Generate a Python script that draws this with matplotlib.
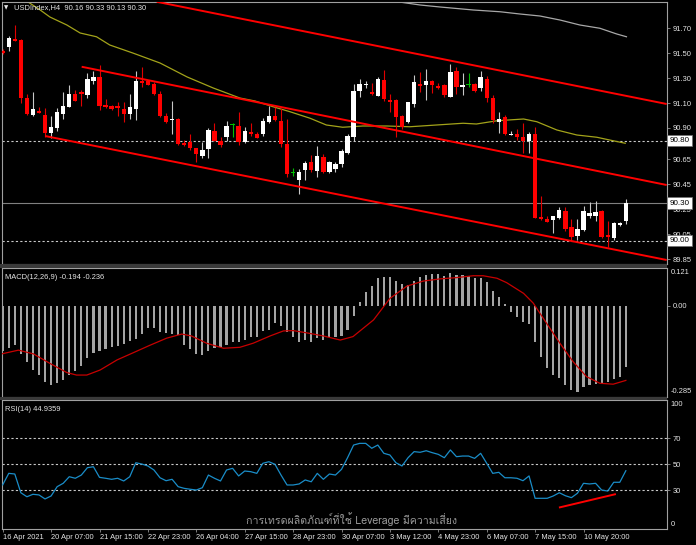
import numpy as np
import matplotlib
matplotlib.use("Agg")
import matplotlib.pyplot as plt
from matplotlib import font_manager as fm
from matplotlib.ft2font import FT2Font
from matplotlib.patches import Rectangle
import matplotlib.transforms as mtransforms

# ---------------- data ----------------
symbol = "USDIndex"
timeframe = "H4"

opens = [91.518, 91.550, 91.612, 91.604, 91.140, 91.004, 91.036, 91.004, 90.862, 90.902,
         91.012, 91.070, 91.172, 91.190, 91.164, 91.276, 91.306, 91.084, 91.078, 91.076,
         91.052, 91.012, 91.050, 91.278, 91.278, 91.252, 91.172, 90.996, 90.964, 90.972,
         90.778, 90.786, 90.738, 90.678, 90.732, 90.878, 90.798, 90.830, 90.924, 90.916,
         90.786, 90.866, 90.850, 90.850, 90.950, 90.996, 90.956, 90.772, 90.538, 90.484,
         90.564, 90.630, 90.558, 90.666, 90.550, 90.570, 90.610, 90.698, 90.826, 91.196,
         91.242, 91.186, 91.158, 91.284, 91.124, 91.124, 90.996, 90.950, 91.090, 91.252,
         91.244, 91.278, 91.236, 91.244, 91.150, 91.356, 91.230, 91.244, 91.252, 91.218,
         91.292, 91.142, 90.950, 90.990, 90.844, 90.852, 90.830, 90.798, 90.852, 90.190,
         90.172, 90.164, 90.182, 90.236, 90.106, 90.038, 90.084, 90.198, 90.198, 90.238,
         90.044, 90.022, 90.124, 90.16]
highs = [91.532, 91.636, 91.724, 91.610, 91.172, 91.188, 91.070, 91.062, 90.996, 91.062,
         91.188, 91.246, 91.204, 91.204, 91.342, 91.356, 91.404, 91.130, 91.084, 91.110,
         91.110, 91.170, 91.356, 91.386, 91.284, 91.270, 91.196, 91.018, 91.116, 90.978,
         90.804, 90.852, 90.742, 90.786, 90.898, 90.938, 90.830, 90.956, 90.942, 91.030,
         90.906, 90.942, 90.866, 90.978, 91.078, 91.070, 91.058, 90.970, 90.578, 90.570,
         90.638, 90.684, 90.756, 90.692, 90.636, 90.628, 90.730, 90.852, 91.250, 91.292,
         91.278, 91.262, 91.310, 91.364, 91.172, 91.130, 91.004, 91.110, 91.324, 91.350,
         91.370, 91.284, 91.262, 91.252, 91.412, 91.386, 91.342, 91.338, 91.258, 91.356,
         91.318, 91.164, 91.026, 91.004, 90.876, 90.892, 90.938, 90.866, 90.910, 90.356,
         90.198, 90.200, 90.266, 90.266, 90.170, 90.170, 90.278, 90.306, 90.318, 90.244,
         90.156, 90.150, 90.148, 90.33]
lows = [91.492, 91.518, 91.596, 91.100, 91.004, 91.000, 91.020, 90.828, 90.820, 90.878,
        90.972, 91.068, 91.116, 91.078, 91.138, 91.252, 91.044, 91.062, 91.044, 90.996,
        90.950, 90.970, 90.964, 91.230, 91.244, 91.164, 90.988, 90.938, 90.850, 90.764,
        90.760, 90.724, 90.630, 90.658, 90.658, 90.796, 90.746, 90.796, 90.830, 90.764,
        90.778, 90.840, 90.818, 90.838, 90.938, 90.956, 90.750, 90.506, 90.518, 90.372,
        90.484, 90.550, 90.506, 90.544, 90.544, 90.550, 90.586, 90.690, 90.798, 91.150,
        91.218, 91.164, 91.154, 91.118, 91.030, 90.826, 90.890, 90.938, 91.070, 91.190,
        91.124, 91.182, 91.212, 91.146, 91.146, 91.170, 91.164, 91.226, 91.192, 91.198,
        91.110, 90.938, 90.862, 90.848, 90.842, 90.804, 90.702, 90.702, 90.178, 90.164,
        90.146, 90.062, 90.176, 90.078, 90.004, 90.004, 90.076, 90.178, 90.156, 90.018,
        89.946, 90.004, 90.116, 90.13]
closes = [91.498, 91.618, 91.598, 91.140, 91.012, 91.052, 91.022, 90.860, 90.908, 91.028,
          91.076, 91.172, 91.118, 91.172, 91.292, 91.310, 91.078, 91.070, 91.050, 91.062,
          91.012, 91.066, 91.278, 91.262, 91.244, 91.170, 90.996, 90.950, 90.972, 90.770,
          90.764, 90.742, 90.690, 90.724, 90.884, 90.798, 90.764, 90.916, 90.924, 90.790,
          90.878, 90.850, 90.822, 90.956, 90.996, 90.964, 90.770, 90.532, 90.538, 90.550,
          90.618, 90.564, 90.676, 90.550, 90.626, 90.610, 90.716, 90.836, 91.198, 91.252,
          91.252, 91.170, 91.292, 91.130, 91.110, 90.986, 90.906, 91.106, 91.266, 91.238,
          91.276, 91.244, 91.218, 91.164, 91.346, 91.226, 91.244, 91.244, 91.196, 91.306,
          91.138, 90.964, 90.972, 90.852, 90.852, 90.826, 90.798, 90.852, 90.182, 90.172,
          90.150, 90.196, 90.244, 90.092, 90.030, 90.092, 90.236, 90.218, 90.230, 90.030,
          90.026, 90.138, 90.138, 90.30]

# moving averages (bar index, price)
ma_yellow_i = [3.7, 6.2, 7.8, 10.6, 12.8, 15.5, 17.7, 21.5, 26.0, 30.5, 34.8, 39.2, 41.7, 44.7,
               47.5, 50.8, 53.5, 56.2, 59.5, 63.5, 67.3, 71.7, 76.1, 78.3, 81.7, 86.1, 88.3,
               91.6, 94.9, 98.2, 100.9, 102.9]
ma_yellow_p = [91.924, 91.844, 91.788, 91.724, 91.660, 91.630, 91.564, 91.500, 91.420, 91.308,
               91.220, 91.140, 91.116, 91.070, 91.030, 90.978, 90.924, 90.906, 90.916, 90.916,
               90.910, 90.924, 90.938, 90.932, 90.958, 90.972, 90.950, 90.884, 90.844, 90.826,
               90.798, 90.778]
ma_grey_i = [62.0, 66.0, 69.0, 72.3, 77.8, 82.2, 85.5, 88.8, 92.1, 95.4, 98.7, 101.5, 103.1]
ma_grey_p = [91.930, 91.905, 91.884, 91.868, 91.844, 91.830, 91.812, 91.796, 91.764, 91.724,
             91.698, 91.652, 91.630]

# channel trend lines: two anchors each (bar index, price), extended to the right
trend_upper = ([25.45, 109.75], [91.910, 91.092])
trend_mid = ([13.05, 109.75], [91.390, 90.444])
trend_low = ([7.0, 109.75], [90.836, 89.844])

hline_dotted = [90.80, 90.00]
bid_price = 90.30

price_ticks = [91.70, 91.50, 91.30, 91.10, 90.90, 90.65, 90.45, 90.25, 90.05, 89.85]

macd_hist = [-0.142, -0.134, -0.124, -0.152, -0.177, -0.203, -0.219, -0.240, -0.251, -0.243,
             -0.235, -0.219, -0.205, -0.190, -0.166, -0.150, -0.142, -0.137, -0.131, -0.127,
             -0.120, -0.110, -0.106, -0.089, -0.071, -0.071, -0.081, -0.087, -0.089, -0.092,
             -0.124, -0.137, -0.152, -0.155, -0.142, -0.134, -0.131, -0.124, -0.113, -0.113,
             -0.108, -0.099, -0.099, -0.078, -0.076, -0.053, -0.063, -0.081, -0.099, -0.113,
             -0.108, -0.113, -0.102, -0.108, -0.097, -0.099, -0.095, -0.076, -0.032, 0.012,
             0.045, 0.063, 0.088, 0.091, 0.091, 0.080, 0.069, 0.067, 0.080, 0.091,
             0.098, 0.100, 0.100, 0.096, 0.104, 0.098, 0.098, 0.096, 0.088, 0.088,
             0.077, 0.049, 0.030, 0.005, -0.018, -0.036, -0.052, -0.058, -0.113, -0.161,
             -0.198, -0.219, -0.229, -0.251, -0.266, -0.272, -0.256, -0.251, -0.247, -0.245,
             -0.240, -0.232, -0.224, -0.194]
macd_sig_i = [-0.2, 2.6, 5.1, 7.8, 10.6, 12.2, 13.9, 16.1, 18.9, 21.6, 24.4, 27.1, 29.6, 31.2,
              33.7, 36.5, 39.2, 41.4, 44.2, 46.4, 48.0, 50.2, 53.0, 55.8, 57.9, 61.3, 64.0,
              66.8, 69.5, 72.3, 75.0, 77.8, 79.4, 81.7, 83.3, 86.1, 87.7, 89.9, 92.1, 94.3,
              96.5, 98.7, 100.9, 103.0]
macd_sig_v = [-0.152, -0.140, -0.152, -0.182, -0.211, -0.219, -0.219, -0.203, -0.171, -0.148,
              -0.124, -0.102, -0.089, -0.095, -0.118, -0.134, -0.131, -0.118, -0.095, -0.079,
              -0.078, -0.085, -0.095, -0.108, -0.097, -0.044, 0.024, 0.063, 0.079, 0.086,
              0.090, 0.096, 0.096, 0.088, 0.074, 0.040, 0.009, -0.055, -0.118, -0.177,
              -0.224, -0.245, -0.248, -0.236]
macd_max, macd_min = 0.121, -0.285

rsi = [34.0, 42.9, 42.4, 27.9, 24.8, 26.7, 26.2, 23.1, 25.4, 32.6,
       35.2, 40.3, 39.1, 41.6, 47.3, 48.0, 39.8, 39.1, 38.3, 39.1,
       37.0, 40.3, 51.1, 50.1, 48.6, 45.5, 39.5, 37.2, 38.3, 32.6,
       31.3, 30.6, 30.0, 31.8, 41.6, 39.1, 37.0, 45.5, 46.8, 40.9,
       44.7, 44.2, 42.9, 50.7, 51.9, 49.9, 41.6, 33.9, 33.9, 34.7,
       37.8, 36.4, 42.9, 38.3, 42.4, 41.6, 46.0, 55.0, 64.8, 66.1,
       66.1, 62.3, 64.8, 58.4, 57.1, 51.1, 48.6, 55.0, 59.7, 59.2,
       60.4, 58.9, 57.6, 55.0, 61.0, 55.8, 56.3, 56.3, 54.5, 58.4,
       50.7, 42.9, 43.7, 39.5, 39.5, 39.1, 37.2, 40.9, 23.6, 23.6,
       23.6, 25.4, 27.9, 25.6, 24.1, 27.5, 35.2, 34.7, 35.2, 30.0,
       29.2, 36.0, 36.0, 44.9359]
rsi_levels = [70, 50, 30]
rsi_trend = ([92.1, 101.2], [16.6, 26.7])

date_idx = [0, 8, 16, 24, 32, 40, 48, 56, 64, 72, 80, 88, 96]
date_labels = ["16 Apr 2021", "20 Apr 07:00", "21 Apr 15:00", "22 Apr 23:00", "26 Apr 04:00",
               "27 Apr 15:00", "28 Apr 23:00", "30 Apr 07:00", "3 May 12:00", "4 May 23:00",
               "6 May 07:00", "7 May 15:00", "10 May 20:00"]

watermark = "การเทรดผลิตภัณฑ์ที่ใช้ Leverage มีความเสี่ยง"

# ---------------- fonts ----------------
names = {f.name for f in fm.fontManager.ttflist}
base_font = next((n for n in ["Liberation Sans Narrow", "DejaVu Sans Condensed", "Liberation Sans"]
                  if n in names), "DejaVu Sans")
plt.rcParams["font.family"] = [base_font, "DejaVu Sans"]

thai_font = None
for f in fm.fontManager.ttflist:
    try:
        cm = FT2Font(f.fname).get_charmap()
        if 0x0E01 in cm and 0x0E40 in cm and 0x0E48 in cm:
            thai_font = f.name
            break
    except Exception:
        pass
thai_family = [thai_font, "DejaVu Sans"] if thai_font else ["DejaVu Sans"]

FS = 5.4
TXT = "#E6E6E6"
GRID = "#909090"

# ---------------- layout ----------------
W, H = 696, 545
fig = plt.figure(figsize=(W / 100, H / 100), dpi=100, facecolor="black")


def rect(x0, y0, x1, y1):
    return [x0 / W, 1 - y1 / H, (x1 - x0) / W, (y1 - y0) / H]


BAR_PX, X0_PX = 6.05, 2.7
LEFT_PX, RIGHT_PX = 2.0, 666.7
XL = ((LEFT_PX - X0_PX) / BAR_PX, (RIGHT_PX - X0_PX) / BAR_PX)

ax = fig.add_axes(rect(LEFT_PX, 2, RIGHT_PX, 264))
axm = fig.add_axes(rect(LEFT_PX, 268, RIGHT_PX, 396.5))
axr = fig.add_axes(rect(LEFT_PX, 400, RIGHT_PX, 529))

for a in (ax, axm, axr):
    a.set_facecolor("black")
    a.set_xlim(*XL)
    for s in a.spines.values():
        s.set_color("#A0A0A0")
        s.set_linewidth(0.8)
    a.yaxis.tick_right()
    a.tick_params(axis="y", colors=GRID, labelcolor=TXT, labelsize=FS, length=2.5,
                  width=0.6, pad=1.5, direction="out")
    a.tick_params(axis="x", bottom=False, labelbottom=False)

# separators between windows
for y0, y1 in [(264, 268), (396.5, 400)]:
    fig.patches.append(Rectangle((0, 1 - y1 / H), RIGHT_PX / W, (y1 - y0) / H,
                                 transform=fig.transFigure, facecolor="#3A3A3A",
                                 edgecolor="none", zorder=0))

# ---------------- main price window ----------------
ax.set_ylim(89.812, 91.908)
o, h, l, c = map(np.asarray, (opens, highs, lows, closes))
idx = np.arange(len(o))
up = c > o
dn = c < o
body_col = np.where(up, "#FFFFFF", np.where(dn, "#FF0000", "#00C000"))
wick_col = np.where(up, "#C8C8C8", np.where(dn, "#E00000", "#00C000"))
ax.vlines(idx, l, h, colors=wick_col, lw=0.8, zorder=3)
ax.bar(idx, np.maximum(np.abs(c - o), 0.008), bottom=np.minimum(o, c), width=0.72,
       color=body_col, lw=0, zorder=4)

ax.plot(ma_yellow_i, ma_yellow_p, color="#A3A31A", lw=0.9, zorder=2)
ax.plot(ma_grey_i, ma_grey_p, color="#A8A8A8", lw=0.9, zorder=2)

for (ti, tp) in (trend_upper, trend_mid, trend_low):
    slope = (tp[1] - tp[0]) / (ti[1] - ti[0])
    xe = XL[1]
    ax.plot([ti[0], xe], [tp[0], tp[0] + slope * (xe - ti[0])], color="#FF0000", lw=1.4,
            zorder=5, solid_capstyle="butt")

for v in hline_dotted:
    ax.axhline(v, color="#C8C8C8", lw=0.8, ls=(0, (2, 2)), zorder=1)
ax.axhline(bid_price, color="#808080", lw=0.8, zorder=1)

ax.set_yticks(price_ticks)
ax.set_yticklabels([f"{v:.2f}" for v in price_ticks])

btrans = mtransforms.blended_transform_factory(ax.transAxes, ax.transData)
for v in hline_dotted + [bid_price]:
    ax.text(1.004, v, f"{v:.2f}", transform=btrans, ha="left", va="center", fontsize=FS + 0.4,
            color="black", clip_on=False, zorder=10,
            bbox=dict(boxstyle="square,pad=0.3", fc="white", ec="#707070", lw=0.5))

# header
fig.text(4 / W, 1 - 8 / H, "▼", fontsize=4, color=TXT, ha="left", va="center",
         family=["DejaVu Sans"])
fig.text(14 / W, 1 - 8 / H,
         f"{symbol},{timeframe}  {opens[-1]:.2f} {highs[-1]:.2f} {lows[-1]:.2f} {closes[-1]:.2f}",
         fontsize=FS, color=TXT, ha="left", va="center")

# ---------------- MACD window ----------------
axm.set_ylim(macd_min - 0.002, macd_max - 0.0005)
axm.bar(idx, macd_hist, width=0.36, color="#A4A4A4", lw=0, zorder=2)
axm.plot(macd_sig_i, macd_sig_v, color="#C80000", lw=0.9, zorder=3)
axm.set_yticks([0.0])
axm.set_yticklabels(["0.00"])
mtr = mtransforms.blended_transform_factory(axm.transAxes, axm.transAxes)
axm.text(1.006, 0.995, f"{macd_max:.3f}", transform=mtr, ha="left", va="top", fontsize=FS,
         color=TXT)
axm.text(1.006, 0.01, f"{macd_min:.3f}", transform=mtr, ha="left", va="bottom", fontsize=FS,
         color=TXT)
axm.text(0.005, 0.955, f"MACD(12,26,9) {macd_hist[-1]:.3f} {macd_sig_v[-1]:.3f}",
         transform=axm.transAxes, ha="left", va="top", fontsize=FS, color=TXT)

# ---------------- RSI window ----------------
axr.set_ylim(-0.15, 99.65)
axr.plot(idx, rsi, color="#1A8DC8", lw=0.9, zorder=3)
for v in rsi_levels:
    axr.axhline(v, color="#C8C8C8", lw=0.8, ls=(0, (2, 2)), zorder=1)
axr.plot(rsi_trend[0], rsi_trend[1], color="#FF0000", lw=1.4, zorder=4)
axr.set_yticks(rsi_levels)
axr.set_yticklabels([str(v) for v in rsi_levels])
axr.text(1.006, 0.99, "100", transform=axr.transAxes, ha="left", va="top", fontsize=FS,
         color=TXT)
axr.text(1.006, 0.01, "0", transform=axr.transAxes, ha="left", va="bottom", fontsize=FS,
         color=TXT)
axr.text(0.005, 0.955, f"RSI(14) {rsi[-1]:.4f}", transform=axr.transAxes, ha="left",
         va="top", fontsize=FS, color=TXT)

axr.set_xticks(date_idx)
axr.set_xticklabels(date_labels)
axr.tick_params(axis="x", bottom=True, labelbottom=True, colors=GRID, labelcolor=TXT,
                labelsize=FS, length=2.5, width=0.6, pad=1.0, direction="out")
for t in axr.get_xticklabels():
    t.set_ha("left")

fig.text(246 / W, 1 - 519 / H, watermark, fontsize=7.6, color="#9A9A9A", ha="left",
         va="center", family=thai_family)

fig.savefig("out.png", dpi=100, facecolor="black")
